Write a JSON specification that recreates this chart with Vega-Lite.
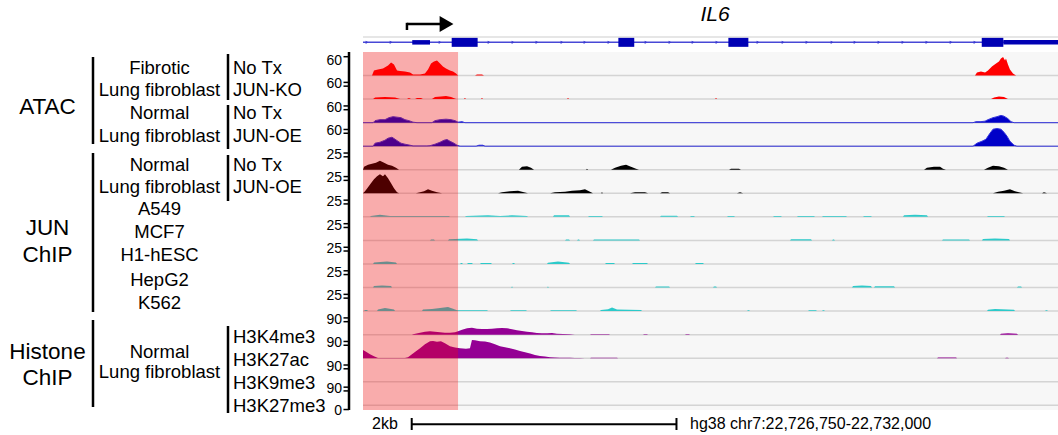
{
"$schema": "https://vega.github.io/schema/vega-lite/v6.json",
"width": 1058, "height": 435,
"autosize": {"type": "none"},
"padding": 0,
"background": "white",
"config": {
 "view": {"stroke": null},
 "area": {"opacity": 1},
 "text": {"font": "Liberation Sans", "color": "#000000"}
},
"datasets": {
 "tracks": [{"track":"ATAC Fibrotic No Tx","row":14},{"track":"ATAC Fibrotic JUN-KO","row":13},{"track":"ATAC Normal No Tx","row":12},{"track":"ATAC Normal JUN-OE","row":11},{"track":"JUN ChIP Normal No Tx","row":10},{"track":"JUN ChIP Normal JUN-OE","row":9},{"track":"JUN ChIP A549","row":8},{"track":"JUN ChIP MCF7","row":7},{"track":"JUN ChIP H1-hESC","row":6},{"track":"JUN ChIP HepG2","row":5},{"track":"JUN ChIP K562","row":4},{"track":"H3K4me3","row":3},{"track":"H3K27ac","row":2},{"track":"H3K9me3","row":1},{"track":"H3K27me3","row":0}],
 "scaleLabels": [{"label":"60","row":14.63},{"label":"60","row":13.63},{"label":"60","row":12.63},{"label":"60","row":11.63},{"label":"25","row":10.63},{"label":"25","row":9.63},{"label":"25","row":8.63},{"label":"25","row":7.63},{"label":"25","row":6.63},{"label":"25","row":5.63},{"label":"25","row":4.63},{"label":"90","row":3.63},{"label":"90","row":2.63},{"label":"90","row":1.63},{"label":"90","row":0.69},{"label":"0","row":-0.25}],
 "ticks": [{"tick":14.8},{"tick":13.71},{"tick":13.55},{"tick":12.71},{"tick":12.55},{"tick":11.71},{"tick":11.55},{"tick":10.71},{"tick":10.55},{"tick":9.71},{"tick":9.55},{"tick":8.71},{"tick":8.55},{"tick":7.71},{"tick":7.55},{"tick":6.71},{"tick":6.55},{"tick":5.71},{"tick":5.55},{"tick":4.71},{"tick":4.55},{"tick":3.71},{"tick":3.55},{"tick":2.71},{"tick":2.55},{"tick":1.71},{"tick":1.55},{"tick":0.77},{"tick":0.61},{"tick":-0.18}],
 "t0": [{"pos":22726818,"signal":0},{"pos":22726833,"signal":15.9},{"pos":22726863,"signal":19.1},{"pos":22726901,"signal":22.3},{"pos":22726939,"signal":31.8},{"pos":22726962,"signal":41.4},{"pos":22726984,"signal":35.0},{"pos":22727007,"signal":15.9},{"pos":22727030,"signal":14.3},{"pos":22727067,"signal":12.7},{"pos":22727105,"signal":9.6},{"pos":22727128,"signal":3.2},{"pos":22727181,"signal":3.2},{"pos":22727218,"signal":6.4},{"pos":22727241,"signal":19.1},{"pos":22727264,"signal":38.2},{"pos":22727286,"signal":44.6},{"pos":22727309,"signal":47.8},{"pos":22727332,"signal":38.2},{"pos":22727354,"signal":28.7},{"pos":22727377,"signal":22.3},{"pos":22727407,"signal":15.9},{"pos":22727430,"signal":12.7},{"pos":22727453,"signal":6.4},{"pos":22727468,"signal":0},{"pos":22727596,"signal":0},{"pos":22727611,"signal":3.2},{"pos":22727649,"signal":3.2},{"pos":22727664,"signal":0},{"pos":22731373,"signal":0},{"pos":22731388,"signal":9.6},{"pos":22731418,"signal":12.7},{"pos":22731449,"signal":9.6},{"pos":22731471,"signal":15.9},{"pos":22731501,"signal":28.7},{"pos":22731532,"signal":38.2},{"pos":22731554,"signal":44.6},{"pos":22731569,"signal":54.1},{"pos":22731585,"signal":58.9},{"pos":22731600,"signal":47.8},{"pos":22731607,"signal":54.1},{"pos":22731622,"signal":35.0},{"pos":22731637,"signal":19.1},{"pos":22731660,"signal":6.4},{"pos":22731683,"signal":0}],
 "t1": [{"pos":22726826,"signal":0},{"pos":22726841,"signal":4.8},{"pos":22726916,"signal":6.4},{"pos":22726992,"signal":4.8},{"pos":22727030,"signal":0},{"pos":22727082,"signal":0},{"pos":22727097,"signal":3.2},{"pos":22727113,"signal":0},{"pos":22727143,"signal":0},{"pos":22727158,"signal":3.2},{"pos":22727188,"signal":3.2},{"pos":22727203,"signal":0},{"pos":22727271,"signal":0},{"pos":22727294,"signal":6.4},{"pos":22727339,"signal":8.0},{"pos":22727377,"signal":9.6},{"pos":22727415,"signal":6.4},{"pos":22727453,"signal":0},{"pos":22727513,"signal":0},{"pos":22727520,"signal":3.2},{"pos":22727528,"signal":0},{"pos":22727641,"signal":0},{"pos":22727649,"signal":3.2},{"pos":22727656,"signal":0},{"pos":22728291,"signal":0},{"pos":22728299,"signal":3.2},{"pos":22728306,"signal":0},{"pos":22729409,"signal":0},{"pos":22729417,"signal":3.2},{"pos":22729424,"signal":0},{"pos":22731494,"signal":0},{"pos":22731517,"signal":4.8},{"pos":22731554,"signal":8.0},{"pos":22731592,"signal":6.4},{"pos":22731622,"signal":0}],
 "t2": [{"pos":22726750,"signal":0},{"pos":22726826,"signal":0},{"pos":22726841,"signal":6.4},{"pos":22726878,"signal":9.6},{"pos":22726916,"signal":9.6},{"pos":22726946,"signal":15.9},{"pos":22726977,"signal":19.1},{"pos":22727007,"signal":17.5},{"pos":22727037,"signal":15.9},{"pos":22727067,"signal":9.6},{"pos":22727097,"signal":6.4},{"pos":22727128,"signal":1.6},{"pos":22727158,"signal":0},{"pos":22727271,"signal":0},{"pos":22727294,"signal":6.4},{"pos":22727332,"signal":9.6},{"pos":22727377,"signal":11.1},{"pos":22727415,"signal":9.6},{"pos":22727445,"signal":6.4},{"pos":22727468,"signal":1.6},{"pos":22727498,"signal":3.2},{"pos":22727520,"signal":0},{"pos":22731358,"signal":0},{"pos":22731381,"signal":3.2},{"pos":22731418,"signal":3.2},{"pos":22731449,"signal":4.8},{"pos":22731471,"signal":9.6},{"pos":22731509,"signal":15.9},{"pos":22731539,"signal":19.1},{"pos":22731569,"signal":23.2},{"pos":22731592,"signal":20.7},{"pos":22731622,"signal":12.7},{"pos":22731645,"signal":3.2},{"pos":22731668,"signal":0},{"pos":22732000,"signal":0}],
 "t3": [{"pos":22726750,"signal":0},{"pos":22726826,"signal":0},{"pos":22726841,"signal":9.6},{"pos":22726878,"signal":12.7},{"pos":22726916,"signal":19.1},{"pos":22726939,"signal":25.5},{"pos":22726969,"signal":28.7},{"pos":22726992,"signal":22.3},{"pos":22727014,"signal":15.9},{"pos":22727037,"signal":9.6},{"pos":22727067,"signal":6.4},{"pos":22727105,"signal":3.2},{"pos":22727128,"signal":1.0},{"pos":22727233,"signal":1.0},{"pos":22727256,"signal":1.6},{"pos":22727294,"signal":6.4},{"pos":22727332,"signal":12.7},{"pos":22727362,"signal":19.1},{"pos":22727385,"signal":21.3},{"pos":22727407,"signal":15.9},{"pos":22727437,"signal":9.6},{"pos":22727460,"signal":3.2},{"pos":22727483,"signal":0},{"pos":22727604,"signal":0},{"pos":22727626,"signal":3.2},{"pos":22727656,"signal":3.2},{"pos":22727672,"signal":0},{"pos":22731358,"signal":0},{"pos":22731388,"signal":9.6},{"pos":22731426,"signal":15.9},{"pos":22731456,"signal":22.3},{"pos":22731486,"signal":41.4},{"pos":22731509,"signal":54.1},{"pos":22731539,"signal":56.4},{"pos":22731569,"signal":54.1},{"pos":22731592,"signal":44.6},{"pos":22731615,"signal":31.8},{"pos":22731637,"signal":15.9},{"pos":22731668,"signal":3.2},{"pos":22731690,"signal":0},{"pos":22732000,"signal":0}],
 "t4": [{"pos":22726750,"signal":0},{"pos":22726758,"signal":4.0},{"pos":22726788,"signal":6.6},{"pos":22726818,"signal":8.0},{"pos":22726848,"signal":9.3},{"pos":22726878,"signal":11.9},{"pos":22726909,"signal":9.3},{"pos":22726939,"signal":6.6},{"pos":22726969,"signal":5.3},{"pos":22726999,"signal":2.7},{"pos":22727022,"signal":0},{"pos":22727928,"signal":0},{"pos":22727951,"signal":4.0},{"pos":22727989,"signal":4.6},{"pos":22728019,"signal":2.7},{"pos":22728042,"signal":0},{"pos":22728435,"signal":0},{"pos":22728442,"signal":1.3},{"pos":22728450,"signal":0},{"pos":22728623,"signal":0},{"pos":22728654,"signal":2.7},{"pos":22728699,"signal":5.3},{"pos":22728737,"signal":6.6},{"pos":22728774,"signal":4.0},{"pos":22728812,"signal":1.3},{"pos":22728835,"signal":0},{"pos":22729515,"signal":0},{"pos":22729530,"signal":1.3},{"pos":22729590,"signal":1.3},{"pos":22729605,"signal":0},{"pos":22730988,"signal":0},{"pos":22731010,"signal":2.7},{"pos":22731063,"signal":4.0},{"pos":22731109,"signal":4.0},{"pos":22731131,"signal":1.3},{"pos":22731154,"signal":0},{"pos":22731441,"signal":0},{"pos":22731471,"signal":2.7},{"pos":22731509,"signal":5.3},{"pos":22731554,"signal":4.6},{"pos":22731592,"signal":2.7},{"pos":22731622,"signal":0}],
 "t5": [{"pos":22726750,"signal":0},{"pos":22726765,"signal":2.7},{"pos":22726788,"signal":8.0},{"pos":22726810,"signal":13.3},{"pos":22726833,"signal":18.6},{"pos":22726856,"signal":22.6},{"pos":22726878,"signal":25.2},{"pos":22726901,"signal":22.6},{"pos":22726916,"signal":25.2},{"pos":22726939,"signal":19.9},{"pos":22726962,"signal":13.3},{"pos":22726984,"signal":6.6},{"pos":22727007,"signal":1.3},{"pos":22727022,"signal":0},{"pos":22727150,"signal":0},{"pos":22727181,"signal":1.3},{"pos":22727211,"signal":2.7},{"pos":22727241,"signal":5.3},{"pos":22727271,"signal":3.3},{"pos":22727309,"signal":1.3},{"pos":22727347,"signal":0},{"pos":22727770,"signal":0},{"pos":22727800,"signal":1.3},{"pos":22727860,"signal":2.7},{"pos":22727921,"signal":3.3},{"pos":22727966,"signal":1.3},{"pos":22727996,"signal":0},{"pos":22728163,"signal":0},{"pos":22728200,"signal":1.3},{"pos":22728276,"signal":2.0},{"pos":22728329,"signal":3.3},{"pos":22728389,"signal":4.0},{"pos":22728427,"signal":5.3},{"pos":22728457,"signal":2.7},{"pos":22728487,"signal":0},{"pos":22728548,"signal":0},{"pos":22728555,"signal":1.3},{"pos":22728563,"signal":0},{"pos":22728767,"signal":0},{"pos":22728805,"signal":1.3},{"pos":22728880,"signal":1.3},{"pos":22728903,"signal":0},{"pos":22728994,"signal":0},{"pos":22729009,"signal":1.3},{"pos":22729054,"signal":1.3},{"pos":22729069,"signal":0},{"pos":22729575,"signal":0},{"pos":22729598,"signal":1.3},{"pos":22729621,"signal":0},{"pos":22731509,"signal":0},{"pos":22731547,"signal":2.0},{"pos":22731592,"signal":3.3},{"pos":22731637,"signal":5.3},{"pos":22731675,"signal":2.7},{"pos":22731705,"signal":1.3},{"pos":22731736,"signal":0},{"pos":22731879,"signal":0},{"pos":22731894,"signal":1.3},{"pos":22731917,"signal":0}],
 "t6": [{"pos":22726803,"signal":0},{"pos":22726810,"signal":1.3},{"pos":22726878,"signal":2.7},{"pos":22726954,"signal":1.3},{"pos":22727400,"signal":1.3},{"pos":22727407,"signal":0},{"pos":22727521,"signal":0},{"pos":22727528,"signal":1.3},{"pos":22727694,"signal":2.0},{"pos":22727785,"signal":1.3},{"pos":22727876,"signal":2.0},{"pos":22727989,"signal":1.3},{"pos":22727996,"signal":0},{"pos":22728185,"signal":0},{"pos":22728193,"signal":2.0},{"pos":22728306,"signal":2.0},{"pos":22728314,"signal":0},{"pos":22728450,"signal":0},{"pos":22728457,"signal":1.3},{"pos":22728555,"signal":1.3},{"pos":22728563,"signal":0},{"pos":22728994,"signal":0},{"pos":22729001,"signal":1.6},{"pos":22729122,"signal":1.6},{"pos":22729130,"signal":0},{"pos":22729220,"signal":0},{"pos":22729228,"signal":1.3},{"pos":22729250,"signal":1.3},{"pos":22729258,"signal":0},{"pos":22729500,"signal":0},{"pos":22729507,"signal":1.3},{"pos":22729553,"signal":1.3},{"pos":22729560,"signal":0},{"pos":22729847,"signal":0},{"pos":22729855,"signal":1.3},{"pos":22729907,"signal":1.3},{"pos":22729915,"signal":0},{"pos":22730028,"signal":0},{"pos":22730036,"signal":1.3},{"pos":22730157,"signal":1.3},{"pos":22730164,"signal":0},{"pos":22730217,"signal":0},{"pos":22730225,"signal":1.3},{"pos":22730399,"signal":1.3},{"pos":22730406,"signal":0},{"pos":22730527,"signal":0},{"pos":22730535,"signal":1.3},{"pos":22730587,"signal":1.3},{"pos":22730595,"signal":0},{"pos":22730829,"signal":0},{"pos":22730837,"signal":2.0},{"pos":22730920,"signal":2.7},{"pos":22731010,"signal":2.0},{"pos":22731018,"signal":0},{"pos":22731464,"signal":0},{"pos":22731471,"signal":1.3},{"pos":22731592,"signal":1.3},{"pos":22731600,"signal":0}],
 "t7": [{"pos":22727256,"signal":0},{"pos":22727264,"signal":1.1},{"pos":22727286,"signal":1.1},{"pos":22727294,"signal":0},{"pos":22727392,"signal":0},{"pos":22727400,"signal":1.6},{"pos":22727536,"signal":2.7},{"pos":22727611,"signal":1.6},{"pos":22727619,"signal":0},{"pos":22728276,"signal":0},{"pos":22728284,"signal":1.3},{"pos":22728306,"signal":1.3},{"pos":22728314,"signal":0},{"pos":22728367,"signal":0},{"pos":22728374,"signal":1.3},{"pos":22728382,"signal":1.3},{"pos":22728389,"signal":0},{"pos":22728487,"signal":0},{"pos":22728495,"signal":1.3},{"pos":22728835,"signal":1.3},{"pos":22728842,"signal":0},{"pos":22729976,"signal":0},{"pos":22729983,"signal":1.6},{"pos":22730134,"signal":1.6},{"pos":22730142,"signal":0},{"pos":22730293,"signal":0},{"pos":22730300,"signal":1.3},{"pos":22730308,"signal":1.3},{"pos":22730315,"signal":0},{"pos":22731124,"signal":0},{"pos":22731131,"signal":1.3},{"pos":22731328,"signal":1.3},{"pos":22731335,"signal":0},{"pos":22731426,"signal":0},{"pos":22731433,"signal":2.0},{"pos":22731524,"signal":2.7},{"pos":22731630,"signal":2.0},{"pos":22731637,"signal":0}],
 "t8": [{"pos":22726826,"signal":0},{"pos":22726833,"signal":2.0},{"pos":22726931,"signal":3.3},{"pos":22726999,"signal":2.0},{"pos":22727007,"signal":0},{"pos":22727483,"signal":0},{"pos":22727490,"signal":1.3},{"pos":22727498,"signal":1.3},{"pos":22727505,"signal":0},{"pos":22727536,"signal":0},{"pos":22727543,"signal":1.3},{"pos":22727573,"signal":1.3},{"pos":22727581,"signal":0},{"pos":22727634,"signal":0},{"pos":22727641,"signal":1.3},{"pos":22727717,"signal":1.3},{"pos":22727724,"signal":0},{"pos":22727876,"signal":0},{"pos":22727883,"signal":1.3},{"pos":22727891,"signal":1.3},{"pos":22727898,"signal":0},{"pos":22728140,"signal":0},{"pos":22728147,"signal":1.6},{"pos":22728223,"signal":3.3},{"pos":22728306,"signal":1.6},{"pos":22728314,"signal":0},{"pos":22728578,"signal":0},{"pos":22728586,"signal":1.3},{"pos":22728646,"signal":1.3},{"pos":22728654,"signal":0},{"pos":22728782,"signal":0},{"pos":22728790,"signal":1.3},{"pos":22728895,"signal":1.3},{"pos":22728903,"signal":0},{"pos":22729258,"signal":0},{"pos":22729265,"signal":1.3},{"pos":22729318,"signal":1.3},{"pos":22729326,"signal":0}],
 "t9": [{"pos":22726826,"signal":0},{"pos":22726833,"signal":2.0},{"pos":22726894,"signal":2.7},{"pos":22726962,"signal":2.0},{"pos":22726969,"signal":0},{"pos":22727868,"signal":0},{"pos":22727876,"signal":1.3},{"pos":22727883,"signal":0},{"pos":22728140,"signal":0},{"pos":22728147,"signal":1.3},{"pos":22728155,"signal":0},{"pos":22728956,"signal":0},{"pos":22728963,"signal":1.3},{"pos":22729062,"signal":1.3},{"pos":22729069,"signal":0},{"pos":22729394,"signal":0},{"pos":22729401,"signal":1.3},{"pos":22729417,"signal":1.3},{"pos":22729424,"signal":0},{"pos":22730444,"signal":0},{"pos":22730452,"signal":2.0},{"pos":22730519,"signal":2.7},{"pos":22730587,"signal":2.0},{"pos":22730595,"signal":0},{"pos":22730610,"signal":0},{"pos":22730618,"signal":1.6},{"pos":22730761,"signal":1.6},{"pos":22730769,"signal":0},{"pos":22731690,"signal":0},{"pos":22731698,"signal":1.3},{"pos":22731721,"signal":1.3},{"pos":22731728,"signal":0}],
 "t10": [{"pos":22726758,"signal":0},{"pos":22726765,"signal":1.3},{"pos":22726780,"signal":1.3},{"pos":22726788,"signal":0},{"pos":22726856,"signal":0},{"pos":22726863,"signal":2.0},{"pos":22726916,"signal":4.0},{"pos":22726984,"signal":2.0},{"pos":22726992,"signal":0},{"pos":22727196,"signal":0},{"pos":22727203,"signal":2.0},{"pos":22727271,"signal":2.7},{"pos":22727332,"signal":4.0},{"pos":22727392,"signal":5.3},{"pos":22727430,"signal":3.0},{"pos":22727460,"signal":1.1},{"pos":22727687,"signal":1.1},{"pos":22727694,"signal":0},{"pos":22727860,"signal":0},{"pos":22727868,"signal":1.1},{"pos":22727981,"signal":1.1},{"pos":22727989,"signal":0},{"pos":22728163,"signal":0},{"pos":22728170,"signal":1.1},{"pos":22728359,"signal":1.1},{"pos":22728367,"signal":0},{"pos":22728540,"signal":0},{"pos":22728548,"signal":1.3},{"pos":22728601,"signal":2.5},{"pos":22728631,"signal":4.6},{"pos":22728669,"signal":2.0},{"pos":22728850,"signal":1.3},{"pos":22728858,"signal":0},{"pos":22729651,"signal":0},{"pos":22729658,"signal":1.1},{"pos":22729666,"signal":1.1},{"pos":22729673,"signal":0},{"pos":22730112,"signal":0},{"pos":22730119,"signal":1.1},{"pos":22730172,"signal":1.1},{"pos":22730179,"signal":0},{"pos":22730217,"signal":0},{"pos":22730225,"signal":1.1},{"pos":22730232,"signal":1.1},{"pos":22730240,"signal":0},{"pos":22731464,"signal":0},{"pos":22731471,"signal":1.6},{"pos":22731524,"signal":2.7},{"pos":22731668,"signal":1.6},{"pos":22731675,"signal":0},{"pos":22731902,"signal":0},{"pos":22731909,"signal":1.1},{"pos":22731917,"signal":1.1},{"pos":22731924,"signal":0}],
 "t11": [{"pos":22727120,"signal":0},{"pos":22727128,"signal":2.4},{"pos":22727181,"signal":9.6},{"pos":22727218,"signal":14.3},{"pos":22727256,"signal":15.8},{"pos":22727294,"signal":14.3},{"pos":22727332,"signal":11.0},{"pos":22727369,"signal":9.6},{"pos":22727407,"signal":9.6},{"pos":22727445,"signal":11.9},{"pos":22727468,"signal":16.7},{"pos":22727498,"signal":23.9},{"pos":22727536,"signal":31.0},{"pos":22727573,"signal":33.4},{"pos":22727611,"signal":28.7},{"pos":22727649,"signal":27.2},{"pos":22727687,"signal":27.2},{"pos":22727724,"signal":28.7},{"pos":22727762,"signal":30.1},{"pos":22727800,"signal":32.0},{"pos":22727838,"signal":30.1},{"pos":22727876,"signal":26.3},{"pos":22727913,"signal":21.5},{"pos":22727951,"signal":17.7},{"pos":22727989,"signal":14.3},{"pos":22728027,"signal":11.0},{"pos":22728064,"signal":8.1},{"pos":22728102,"signal":6.2},{"pos":22728140,"signal":6.2},{"pos":22728178,"signal":8.1},{"pos":22728215,"signal":4.8},{"pos":22728261,"signal":3.3},{"pos":22728314,"signal":1.4},{"pos":22728351,"signal":0},{"pos":22728465,"signal":0},{"pos":22728472,"signal":2.4},{"pos":22728608,"signal":2.4},{"pos":22728616,"signal":0},{"pos":22728865,"signal":0},{"pos":22728873,"signal":2.4},{"pos":22728895,"signal":2.4},{"pos":22728903,"signal":0},{"pos":22729182,"signal":0},{"pos":22729190,"signal":2.4},{"pos":22729213,"signal":2.4},{"pos":22729220,"signal":0},{"pos":22731562,"signal":0},{"pos":22731569,"signal":4.8},{"pos":22731622,"signal":6.2},{"pos":22731690,"signal":4.8},{"pos":22731698,"signal":0}],
 "t12": [{"pos":22726750,"signal":39.6},{"pos":22726773,"signal":31.0},{"pos":22726803,"signal":19.1},{"pos":22726833,"signal":9.6},{"pos":22726863,"signal":1.4},{"pos":22727067,"signal":1.4},{"pos":22727090,"signal":4.8},{"pos":22727120,"signal":19.1},{"pos":22727150,"signal":33.4},{"pos":22727181,"signal":47.8},{"pos":22727218,"signal":66.9},{"pos":22727256,"signal":81.2},{"pos":22727279,"signal":82.6},{"pos":22727309,"signal":78.8},{"pos":22727339,"signal":81.2},{"pos":22727369,"signal":71.6},{"pos":22727407,"signal":57.3},{"pos":22727445,"signal":51.1},{"pos":22727483,"signal":47.8},{"pos":22727528,"signal":45.4},{"pos":22727558,"signal":47.8},{"pos":22727573,"signal":87.4},{"pos":22727596,"signal":86.0},{"pos":22727634,"signal":81.2},{"pos":22727672,"signal":79.8},{"pos":22727709,"signal":75.0},{"pos":22727747,"signal":66.9},{"pos":22727785,"signal":57.3},{"pos":22727823,"signal":52.5},{"pos":22727860,"signal":47.8},{"pos":22727898,"signal":41.6},{"pos":22727936,"signal":34.9},{"pos":22727974,"signal":28.7},{"pos":22728012,"signal":22.4},{"pos":22728049,"signal":15.8},{"pos":22728087,"signal":11.0},{"pos":22728125,"signal":8.1},{"pos":22728163,"signal":4.8},{"pos":22728200,"signal":3.3},{"pos":22728238,"signal":2.4},{"pos":22728314,"signal":2.4},{"pos":22728351,"signal":1.4},{"pos":22728389,"signal":1.4},{"pos":22728427,"signal":0},{"pos":22728465,"signal":0},{"pos":22728472,"signal":1.9},{"pos":22728669,"signal":1.9},{"pos":22728676,"signal":0},{"pos":22731086,"signal":0},{"pos":22731094,"signal":3.3},{"pos":22731230,"signal":3.3},{"pos":22731237,"signal":0},{"pos":22731600,"signal":0},{"pos":22731607,"signal":2.4},{"pos":22731622,"signal":2.4},{"pos":22731630,"signal":0}],
 "gene": [{"feature":"line","start":22726750,"end":22732000},{"feature":"utr","start":22727122,"end":22727256},{"feature":"utr","start":22731587,"end":22732000},{"feature":"exon","start":22727420,"end":22727616},{"feature":"exon","start":22728679,"end":22728799},{"feature":"exon","start":22729510,"end":22729661},{"feature":"exon","start":22731424,"end":22731587}],
 "strand": [{"pos":22726780},{"pos":22726962},{"pos":22727332},{"pos":22727702},{"pos":22727883},{"pos":22728064},{"pos":22728253},{"pos":22728427},{"pos":22728608},{"pos":22728888},{"pos":22729069},{"pos":22729243},{"pos":22729424},{"pos":22729734},{"pos":22729923},{"pos":22730104},{"pos":22730293},{"pos":22730467},{"pos":22730648},{"pos":22730829},{"pos":22731010},{"pos":22731192},{"pos":22731373}],
 "lab0": [{"text":"ATAC","row":12.665},{"text":"JUN","row":7.527},{"text":"ChIP","row":6.381},{"text":"Histone","row":2.263},{"text":"ChIP","row":1.159}],
 "lab1": [{"text":"Fibrotic","row":14.321},{"text":"Lung fibroblast","row":13.387},{"text":"Normal","row":12.41},{"text":"Lung fibroblast","row":11.434},{"text":"Normal","row":10.202},{"text":"Lung fibroblast","row":9.268},{"text":"A549","row":8.334},{"text":"MCF7","row":7.358},{"text":"H1-hESC","row":6.381},{"text":"HepG2","row":5.32},{"text":"K562","row":4.343},{"text":"Normal","row":2.263},{"text":"Lung fibroblast","row":1.414}],
 "lab2": [{"text":"No Tx","row":14.321},{"text":"JUN-KO","row":13.387},{"text":"No Tx","row":12.41},{"text":"JUN-OE","row":11.434},{"text":"No Tx","row":10.202},{"text":"JUN-OE","row":9.268},{"text":"H3K4me3","row":2.9},{"text":"H3K27ac","row":1.923},{"text":"H3K9me3","row":0.947},{"text":"H3K27me3","row":-0.03}],
 "br0": [{"group":"ATAC","top":14.788,"bottom":11.094},{"group":"JUN ChIP","top":10.712,"bottom":3.961},{"group":"Histone ChIP","top":3.621,"bottom":-0.073}],
 "br1": [{"group":"Fibrotic","top":14.915,"bottom":12.962},{"group":"Normal ATAC","top":12.75,"bottom":10.882},{"group":"Normal JUN","top":10.627,"bottom":8.674},{"group":"Histone marks","top":3.367,"bottom":-0.327}]
},
"layer": [
 {"data":{"values":[{"region":"track panel","start":22726750,"end":22732000}]},"mark":{"type":"rect","color":"#f7f7f7"},"encoding":{"x":{"field":"start","type":"quantitative","scale":{"domain":[22726750,22732000],"range":[363,1058],"nice":false,"zero":false},"axis":null},"x2":{"field":"end"},"y":{"datum":-0.2,"type":"quantitative","scale":{"domain":[-0.2,15],"range":[410,52],"nice":false,"zero":false},"axis":null},"y2":{"datum":15}}},
 {"data":{"name":"tracks"},"mark":{"type":"rule","color":"#d4d4d4","strokeWidth":1.5},"encoding":{"x":{"datum":22726750,"type":"quantitative","scale":{"domain":[22726750,22732000],"range":[363,1058],"nice":false,"zero":false},"axis":null},"x2":{"datum":22732000},"y":{"field":"row","type":"quantitative","scale":{"domain":[-0.2,15],"range":[410,52],"nice":false,"zero":false},"axis":null}}},
 {"data":{"values":[{"edge":"gene track top"}]},"mark":{"type":"rule","color":"#dedede","strokeWidth":1.5},"encoding":{"x":{"datum":22726750,"type":"quantitative","scale":{"domain":[22726750,22732000],"range":[363,1058],"nice":false,"zero":false},"axis":null},"x2":{"datum":22732000},"y":{"datum":15.637,"type":"quantitative","scale":{"domain":[-0.2,15],"range":[410,52],"nice":false,"zero":false},"axis":null}}},
 {"data":{"name":"t0"},"mark":{"type":"area","color":"#ff0000","opacity":1},"encoding":{"x":{"field":"pos","type":"quantitative","scale":{"domain":[22726750,22732000],"range":[363,1058],"nice":false,"zero":false},"axis":null},"y":{"field":"signal","type":"quantitative","scale":{"domain":[0,75],"range":[75.55,52],"nice":false},"axis":null}}},
 {"data":{"name":"t1"},"mark":{"type":"area","color":"#ff0000","opacity":1},"encoding":{"x":{"field":"pos","type":"quantitative","scale":{"domain":[22726750,22732000],"range":[363,1058],"nice":false,"zero":false},"axis":null},"y":{"field":"signal","type":"quantitative","scale":{"domain":[0,75],"range":[99.11,75.55],"nice":false},"axis":null}}},
 {"data":{"name":"t2"},"mark":{"type":"area","color":"#0000c8","opacity":1,"line":{"color":"#3434dc","strokeWidth":1}},"encoding":{"x":{"field":"pos","type":"quantitative","scale":{"domain":[22726750,22732000],"range":[363,1058],"nice":false,"zero":false},"axis":null},"y":{"field":"signal","type":"quantitative","scale":{"domain":[0,75],"range":[122.66,99.11],"nice":false},"axis":null}}},
 {"data":{"name":"t3"},"mark":{"type":"area","color":"#0000c8","opacity":1,"line":{"color":"#3434dc","strokeWidth":1}},"encoding":{"x":{"field":"pos","type":"quantitative","scale":{"domain":[22726750,22732000],"range":[363,1058],"nice":false,"zero":false},"axis":null},"y":{"field":"signal","type":"quantitative","scale":{"domain":[0,75],"range":[146.21,122.66],"nice":false},"axis":null}}},
 {"data":{"name":"t4"},"mark":{"type":"area","color":"#000000","opacity":1},"encoding":{"x":{"field":"pos","type":"quantitative","scale":{"domain":[22726750,22732000],"range":[363,1058],"nice":false,"zero":false},"axis":null},"y":{"field":"signal","type":"quantitative","scale":{"domain":[0,31.25],"range":[169.76,146.21],"nice":false},"axis":null}}},
 {"data":{"name":"t5"},"mark":{"type":"area","color":"#000000","opacity":1},"encoding":{"x":{"field":"pos","type":"quantitative","scale":{"domain":[22726750,22732000],"range":[363,1058],"nice":false,"zero":false},"axis":null},"y":{"field":"signal","type":"quantitative","scale":{"domain":[0,31.25],"range":[193.32,169.76],"nice":false},"axis":null}}},
 {"data":{"name":"t6"},"mark":{"type":"area","color":"#2ccaca","opacity":1},"encoding":{"x":{"field":"pos","type":"quantitative","scale":{"domain":[22726750,22732000],"range":[363,1058],"nice":false,"zero":false},"axis":null},"y":{"field":"signal","type":"quantitative","scale":{"domain":[0,31.25],"range":[216.87,193.32],"nice":false},"axis":null}}},
 {"data":{"name":"t7"},"mark":{"type":"area","color":"#2ccaca","opacity":1},"encoding":{"x":{"field":"pos","type":"quantitative","scale":{"domain":[22726750,22732000],"range":[363,1058],"nice":false,"zero":false},"axis":null},"y":{"field":"signal","type":"quantitative","scale":{"domain":[0,31.25],"range":[240.42,216.87],"nice":false},"axis":null}}},
 {"data":{"name":"t8"},"mark":{"type":"area","color":"#2ccaca","opacity":1},"encoding":{"x":{"field":"pos","type":"quantitative","scale":{"domain":[22726750,22732000],"range":[363,1058],"nice":false,"zero":false},"axis":null},"y":{"field":"signal","type":"quantitative","scale":{"domain":[0,31.25],"range":[263.98,240.42],"nice":false},"axis":null}}},
 {"data":{"name":"t9"},"mark":{"type":"area","color":"#2ccaca","opacity":1},"encoding":{"x":{"field":"pos","type":"quantitative","scale":{"domain":[22726750,22732000],"range":[363,1058],"nice":false,"zero":false},"axis":null},"y":{"field":"signal","type":"quantitative","scale":{"domain":[0,31.25],"range":[287.53,263.98],"nice":false},"axis":null}}},
 {"data":{"name":"t10"},"mark":{"type":"area","color":"#2ccaca","opacity":1},"encoding":{"x":{"field":"pos","type":"quantitative","scale":{"domain":[22726750,22732000],"range":[363,1058],"nice":false,"zero":false},"axis":null},"y":{"field":"signal","type":"quantitative","scale":{"domain":[0,31.25],"range":[311.08,287.53],"nice":false},"axis":null}}},
 {"data":{"name":"t11"},"mark":{"type":"area","color":"#940094","opacity":1},"encoding":{"x":{"field":"pos","type":"quantitative","scale":{"domain":[22726750,22732000],"range":[363,1058],"nice":false,"zero":false},"axis":null},"y":{"field":"signal","type":"quantitative","scale":{"domain":[0,112.5],"range":[334.64,311.08],"nice":false},"axis":null}}},
 {"data":{"name":"t12"},"mark":{"type":"area","color":"#940094","opacity":1},"encoding":{"x":{"field":"pos","type":"quantitative","scale":{"domain":[22726750,22732000],"range":[363,1058],"nice":false,"zero":false},"axis":null},"y":{"field":"signal","type":"quantitative","scale":{"domain":[0,112.5],"range":[358.19,334.64],"nice":false},"axis":null}}},
 {"data":{"values":[{"region":"promoter","start":22726750,"end":22727468}]},"mark":{"type":"rect","color":"#ff0000","opacity":0.3},"encoding":{"x":{"field":"start","type":"quantitative","scale":{"domain":[22726750,22732000],"range":[363,1058],"nice":false,"zero":false},"axis":null},"x2":{"field":"end"},"y":{"datum":-0.2,"type":"quantitative","scale":{"domain":[-0.2,15],"range":[410,52],"nice":false,"zero":false},"axis":null},"y2":{"datum":15}}},
 {"data":{"name":"gene"},"transform":[{"filter":"datum.feature == 'line'"}],"mark":{"type":"rule","color":"#4848d6","strokeWidth":1.5},"encoding":{"x":{"field":"start","type":"quantitative","scale":{"domain":[22726750,22732000],"range":[363,1058],"nice":false,"zero":false},"axis":null},"x2":{"field":"end"},"y":{"datum":15.41,"type":"quantitative","scale":{"domain":[-0.2,15],"range":[410,52],"nice":false,"zero":false},"axis":null}}},
 {"data":{"name":"strand"},"mark":{"type":"point","shape":"triangle-right","size":10,"filled":true,"color":"#3c3cd2","opacity":1},"encoding":{"x":{"field":"pos","type":"quantitative","scale":{"domain":[22726750,22732000],"range":[363,1058],"nice":false,"zero":false},"axis":null},"y":{"datum":15.41,"type":"quantitative","scale":{"domain":[-0.2,15],"range":[410,52],"nice":false,"zero":false},"axis":null}}},
 {"data":{"name":"gene"},"transform":[{"filter":"datum.feature == 'utr'"}],"mark":{"type":"rule","color":"#0000b4","strokeWidth":4.5},"encoding":{"x":{"field":"start","type":"quantitative","scale":{"domain":[22726750,22732000],"range":[363,1058],"nice":false,"zero":false},"axis":null},"x2":{"field":"end"},"y":{"datum":15.41,"type":"quantitative","scale":{"domain":[-0.2,15],"range":[410,52],"nice":false,"zero":false},"axis":null}}},
 {"data":{"name":"gene"},"transform":[{"filter":"datum.feature == 'exon'"}],"mark":{"type":"rule","color":"#0000b4","strokeWidth":9},"encoding":{"x":{"field":"start","type":"quantitative","scale":{"domain":[22726750,22732000],"range":[363,1058],"nice":false,"zero":false},"axis":null},"x2":{"field":"end"},"y":{"datum":15.41,"type":"quantitative","scale":{"domain":[-0.2,15],"range":[410,52],"nice":false,"zero":false},"axis":null}}},
 {"data":{"values":[{"tss":22727082,"head":22727381}]},"mark":{"type":"rule","color":"#000000","strokeWidth":2.5},"encoding":{"x":{"field":"tss","type":"quantitative","scale":{"domain":[22726750,22732000],"range":[363,1058],"nice":false,"zero":false},"axis":null},"y":{"datum":15.934,"type":"quantitative","scale":{"domain":[-0.2,15],"range":[410,52],"nice":false,"zero":false},"axis":null},"y2":{"datum":16.24}}},
 {"data":{"values":[{"tss":22727082,"head":22727381}]},"mark":{"type":"rule","color":"#000000","strokeWidth":2.5},"encoding":{"x":{"field":"tss","type":"quantitative","scale":{"domain":[22726750,22732000],"range":[363,1058],"nice":false,"zero":false},"axis":null},"x2":{"field":"head"},"y":{"datum":16.189,"type":"quantitative","scale":{"domain":[-0.2,15],"range":[410,52],"nice":false,"zero":false},"axis":null}}},
 {"data":{"values":[{"tss":22727082,"head":22727381}]},"mark":{"type":"point","shape":"triangle-right","size":256,"filled":true,"color":"#000000","opacity":1},"encoding":{"x":{"field":"head","type":"quantitative","scale":{"domain":[22726750,22732000],"range":[363,1058],"nice":false,"zero":false},"axis":null},"y":{"datum":16.189,"type":"quantitative","scale":{"domain":[-0.2,15],"range":[410,52],"nice":false,"zero":false},"axis":null}}},
 {"data":{"values":[{"gene":"IL6","pos":22729409}]},"mark":{"type":"text","fontSize":21,"fontStyle":"italic","align":"center","baseline":"middle"},"encoding":{"x":{"field":"pos","type":"quantitative","scale":{"domain":[22726750,22732000],"range":[363,1058],"nice":false,"zero":false},"axis":null},"y":{"datum":16.571,"type":"quantitative","scale":{"domain":[-0.2,15],"range":[410,52],"nice":false,"zero":false},"axis":null},"text":{"field":"gene"}}},
 {"data":{"values":[{"start":22727118,"end":22729118}]},"mark":{"type":"rule","color":"#000000","strokeWidth":2},"encoding":{"x":{"field":"start","type":"quantitative","scale":{"domain":[22726750,22732000],"range":[363,1058],"nice":false,"zero":false},"axis":null},"x2":{"field":"end"},"y":{"datum":-0.807,"type":"quantitative","scale":{"domain":[-0.2,15],"range":[410,52],"nice":false,"zero":false},"axis":null}}},
 {"data":{"values":[{"end":"left","pos":22727118},{"end":"right","pos":22729118}]},"mark":{"type":"rule","color":"#000000","strokeWidth":2},"encoding":{"x":{"field":"pos","type":"quantitative","scale":{"domain":[22726750,22732000],"range":[363,1058],"nice":false,"zero":false},"axis":null},"y":{"datum":-0.539,"type":"quantitative","scale":{"domain":[-0.2,15],"range":[410,52],"nice":false,"zero":false},"axis":null},"y2":{"datum":-1.049}}},
 {"data":{"values":[{"label":"2kb","pos":22726916}]},"mark":{"type":"text","fontSize":16,"align":"center","baseline":"middle"},"encoding":{"x":{"field":"pos","type":"quantitative","scale":{"domain":[22726750,22732000],"range":[363,1058],"nice":false,"zero":false},"axis":null},"y":{"datum":-0.79,"type":"quantitative","scale":{"domain":[-0.2,15],"range":[410,52],"nice":false,"zero":false},"axis":null},"text":{"field":"label"}}},
 {"data":{"values":[{"label":"hg38 chr7:22,726,750-22,732,000","pos":22729220}]},"mark":{"type":"text","fontSize":16,"align":"left","baseline":"middle"},"encoding":{"x":{"field":"pos","type":"quantitative","scale":{"domain":[22726750,22732000],"range":[363,1058],"nice":false,"zero":false},"axis":null},"y":{"datum":-0.79,"type":"quantitative","scale":{"domain":[-0.2,15],"range":[410,52],"nice":false,"zero":false},"axis":null},"text":{"field":"label"}}},
 {"data":{"name":"br0"},"mark":{"type":"rule","color":"#000000","strokeWidth":2.5},"encoding":{"x":{"datum":93,"type":"quantitative","scale":{"domain":[0,363],"range":[0,363],"nice":false,"zero":false},"axis":null},"y":{"field":"top","type":"quantitative","scale":{"domain":[-0.2,15],"range":[410,52],"nice":false,"zero":false},"axis":null},"y2":{"field":"bottom"}}},
 {"data":{"name":"br1"},"mark":{"type":"rule","color":"#000000","strokeWidth":2.5},"encoding":{"x":{"datum":228,"type":"quantitative","scale":{"domain":[0,363],"range":[0,363],"nice":false,"zero":false},"axis":null},"y":{"field":"top","type":"quantitative","scale":{"domain":[-0.2,15],"range":[410,52],"nice":false,"zero":false},"axis":null},"y2":{"field":"bottom"}}},
 {"data":{"name":"lab0"},"mark":{"type":"text","fontSize":22.5,"align":"center","baseline":"middle"},"encoding":{"x":{"datum":47.5,"type":"quantitative","scale":{"domain":[0,363],"range":[0,363],"nice":false,"zero":false},"axis":null},"y":{"field":"row","type":"quantitative","scale":{"domain":[-0.2,15],"range":[410,52],"nice":false,"zero":false},"axis":null},"text":{"field":"text"}}},
 {"data":{"name":"lab1"},"mark":{"type":"text","fontSize":18.5,"align":"center","baseline":"middle"},"encoding":{"x":{"datum":159.5,"type":"quantitative","scale":{"domain":[0,363],"range":[0,363],"nice":false,"zero":false},"axis":null},"y":{"field":"row","type":"quantitative","scale":{"domain":[-0.2,15],"range":[410,52],"nice":false,"zero":false},"axis":null},"text":{"field":"text"}}},
 {"data":{"name":"lab2"},"mark":{"type":"text","fontSize":18.5,"align":"left","baseline":"middle"},"encoding":{"x":{"datum":233,"type":"quantitative","scale":{"domain":[0,363],"range":[0,363],"nice":false,"zero":false},"axis":null},"y":{"field":"row","type":"quantitative","scale":{"domain":[-0.2,15],"range":[410,52],"nice":false,"zero":false},"axis":null},"text":{"field":"text"}}},
 {"data":{"name":"scaleLabels"},"mark":{"type":"text","fontSize":14,"align":"right","baseline":"middle"},"encoding":{"x":{"datum":342,"type":"quantitative","scale":{"domain":[0,363],"range":[0,363],"nice":false,"zero":false},"axis":null},"y":{"field":"row","type":"quantitative","scale":{"domain":[-0.2,15],"range":[410,52],"nice":false,"zero":false},"axis":null},"text":{"field":"label"}}},
 {"data":{"values":[{"axis":"signal axis","start":-0.2,"end":15}]},"mark":{"type":"rule","color":"#000000","strokeWidth":2.5},"encoding":{"x":{"datum":349,"type":"quantitative","scale":{"domain":[0,363],"range":[0,363],"nice":false,"zero":false},"axis":null},"y":{"field":"start","type":"quantitative","scale":{"domain":[-0.2,15],"range":[410,52],"nice":false,"zero":false},"axis":null},"y2":{"field":"end"}}},
 {"data":{"name":"ticks"},"mark":{"type":"rule","color":"#000000","strokeWidth":1.5},"encoding":{"x":{"datum":343.5,"type":"quantitative","scale":{"domain":[0,363],"range":[0,363],"nice":false,"zero":false},"axis":null},"x2":{"datum":349},"y":{"field":"tick","type":"quantitative","scale":{"domain":[-0.2,15],"range":[410,52],"nice":false,"zero":false},"axis":null}}}
],
"resolve": {"scale": {"x": "independent", "y": "independent"}}
}
